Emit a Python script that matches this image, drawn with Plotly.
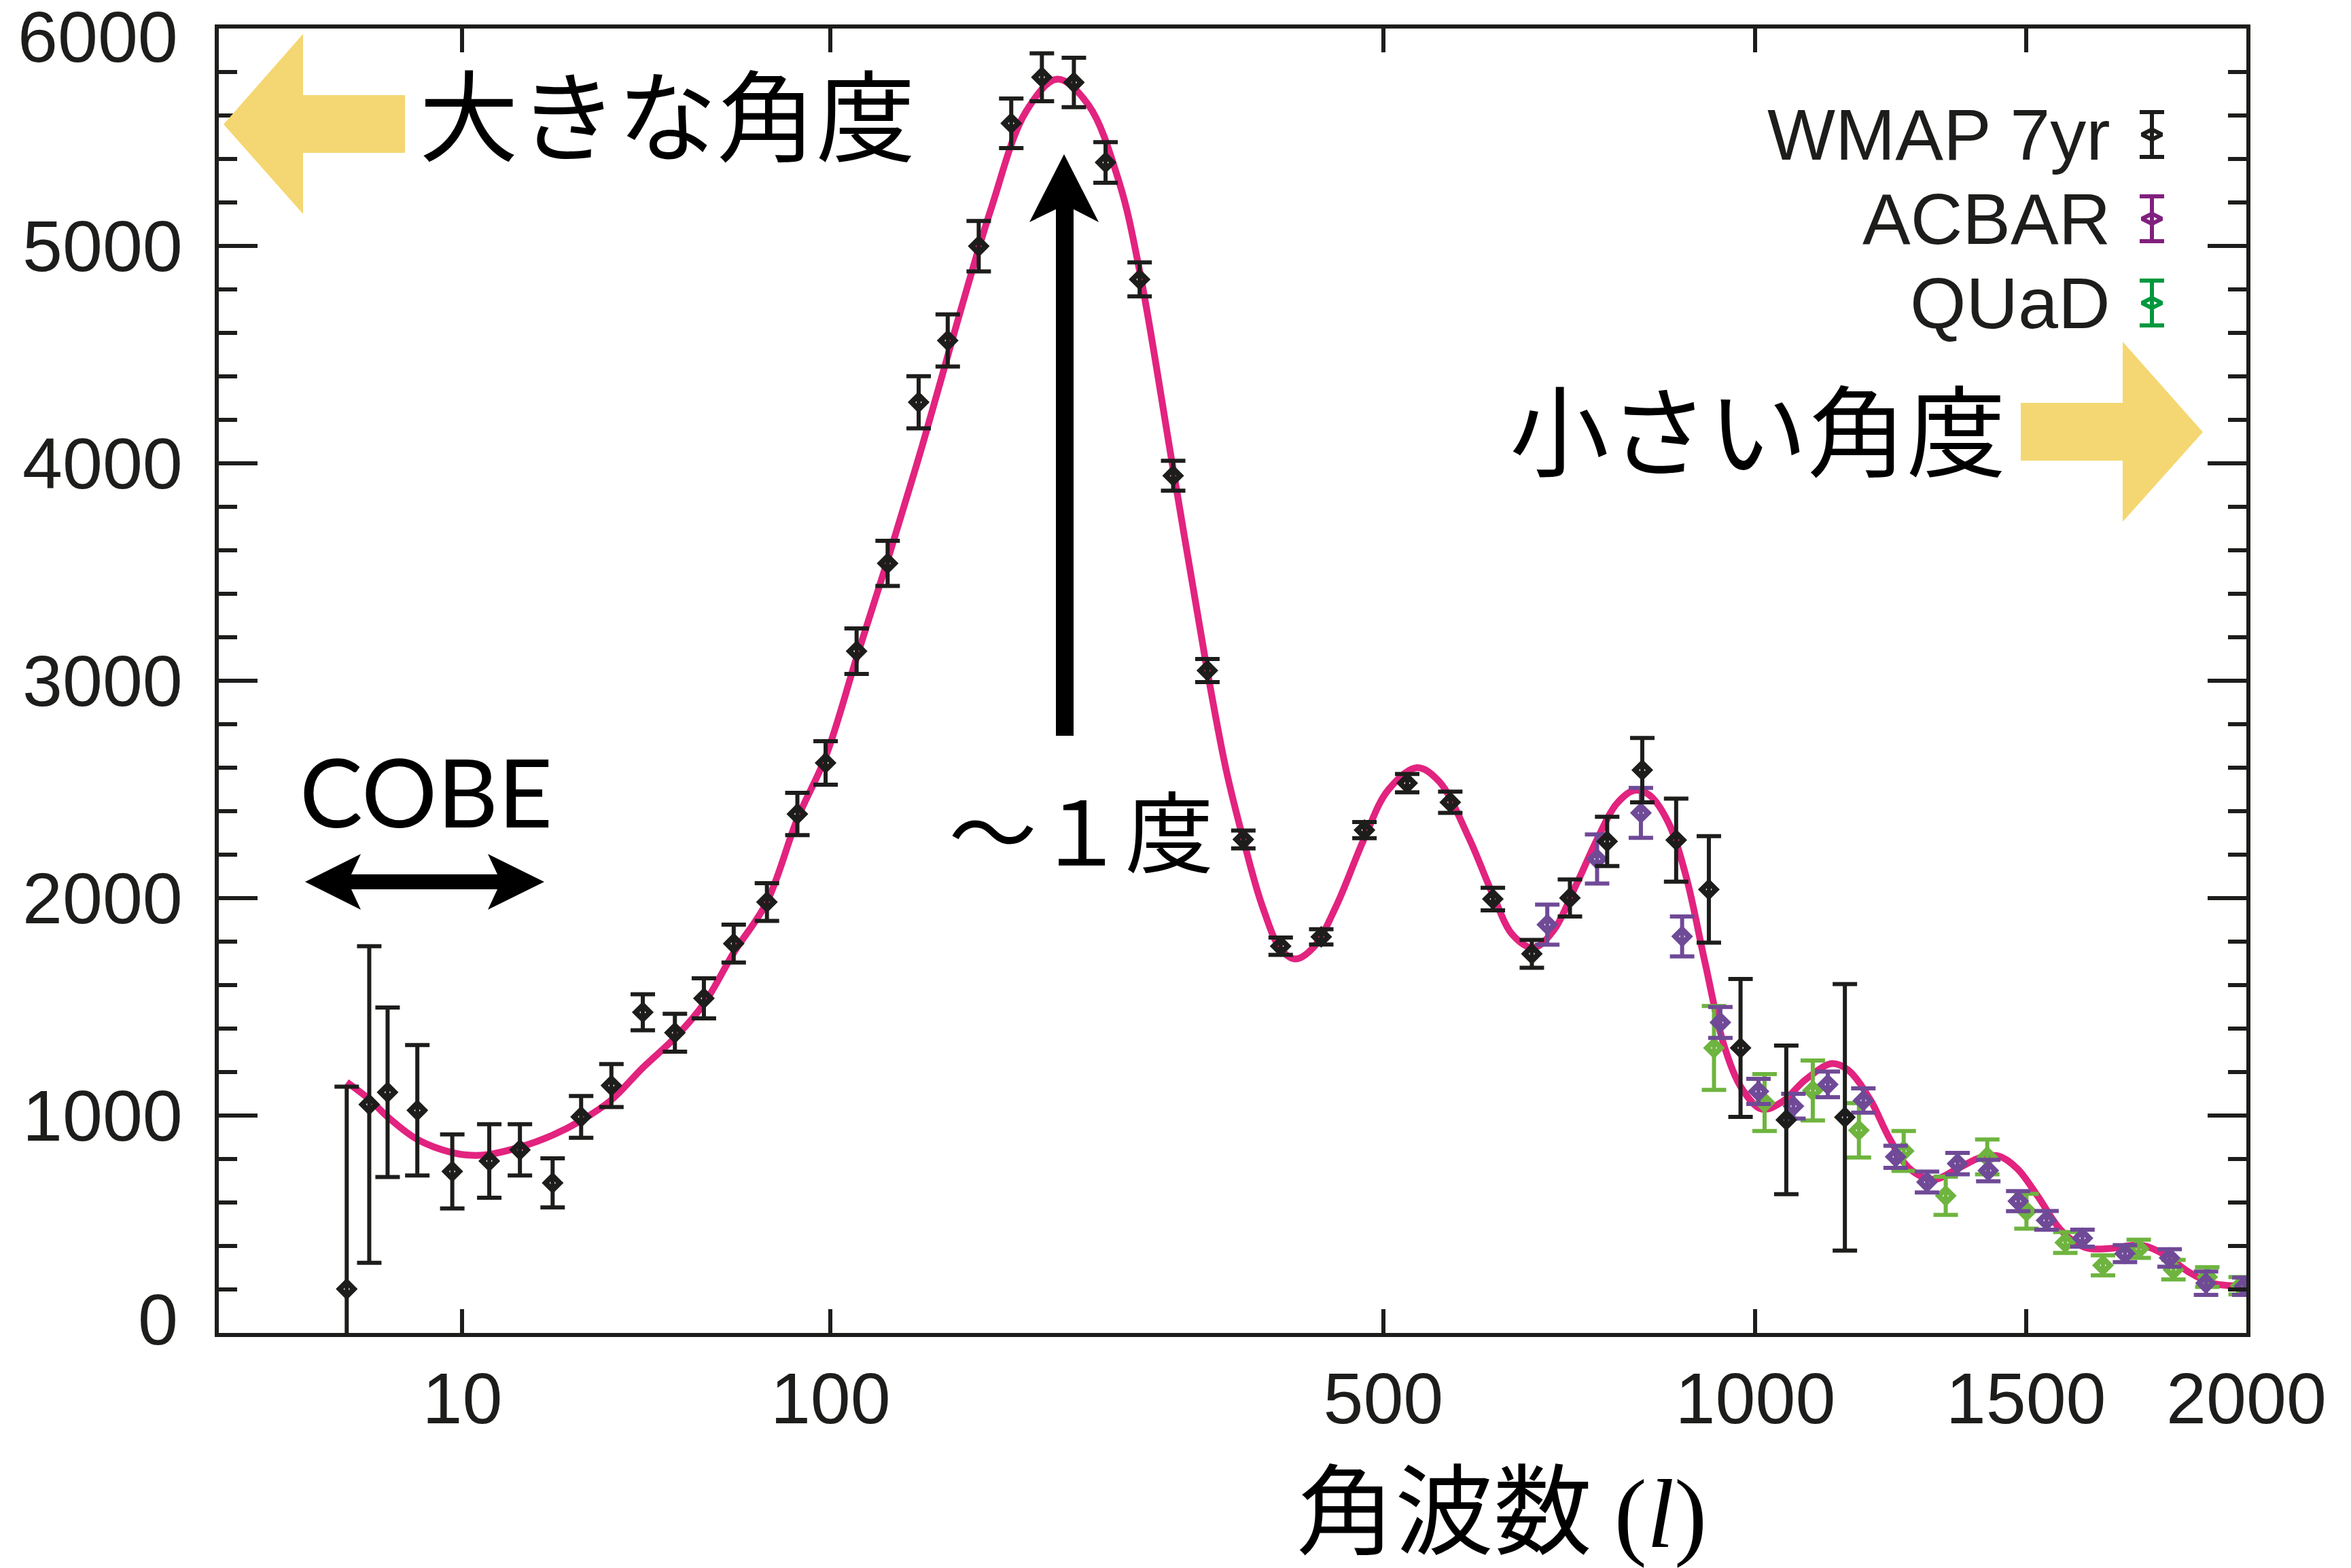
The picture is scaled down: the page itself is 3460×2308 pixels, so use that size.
import plotly.graph_objects as go

# Horizontal axis is linear in l**0.4 (stretches the high-l end)
EXP = 0.4


def xt(vals):
    return [v ** EXP for v in vals]


# ---- WMAP 7-year binned TT spectrum: l, l(l+1)C_l/2pi [uK^2], 1-sigma ----
wmap_l = [2, 3, 4, 6, 9, 13, 17, 22, 27, 33, 40, 48, 56, 65, 76, 87, 98, 111,
          125, 140, 155, 172, 191, 210, 231, 253, 278, 304, 332, 363, 397, 436,
          480, 526, 575, 626, 675, 725, 776, 826, 876, 926, 976, 1051, 1152]
wmap_d = [202, 1051, 1107, 1024, 743, 791, 842, 690, 994, 1138, 1475, 1381,
          1539, 1791, 1982, 2387, 2622, 3136, 3540, 4281, 4565, 4999, 5564,
          5776, 5752, 5384, 4846, 3943, 3047, 2270, 1779, 1822, 2313, 2529,
          2441, 1996, 1744, 2001, 2261, 2589, 2267, 2040, 1311, 980, 992]
wmap_err = [931, 728, 390, 300, 170, 169, 118, 113, 96, 99, 83, 87, 92, 87,
            87, 97, 100, 105, 104, 120, 120, 116, 114, 110, 114, 93, 78, 69,
            53, 41, 40, 35, 37, 42, 49, 52, 64, 85, 113, 148, 191, 245, 317,
            342, 613]

# ---- ACBAR ----
acbar_l = [695, 762, 824, 885, 944, 1005, 1063, 1122, 1185, 1244, 1303, 1362,
           1423, 1484, 1543, 1620, 1714, 1816, 1902, 1995]
acbar_d = [1878, 2180, 2392, 1824, 1428, 1111, 1043, 1143, 1069, 810, 694, 779,
           747, 606, 518, 436, 365, 345, 229, 215]
acbar_err = [92, 113, 115, 92, 71, 58, 57, 59, 56, 51, 48, 49, 49, 46, 43, 39,
             39, 40, 54, 40]

# ---- QUaD ----
quad_l = [934, 1015, 1096, 1177, 1259, 1339, 1421, 1501, 1583, 1665, 1745,
          1825, 1905, 1986]
quad_d = [1311, 1060, 1115, 932, 837, 631, 810, 560, 416, 311, 387, 291, 257,
          217]
quad_err = [193, 131, 138, 125, 92, 88, 80, 80, 48, 46, 42, 45, 45, 40]

# ---- best-fit LCDM model curve ----
model_l = [2, 3, 4, 6, 9, 11, 13, 17, 22, 27, 33, 40, 48, 56, 65, 76, 87, 98,
           111, 125, 142, 160, 179, 200, 220, 241, 263, 278, 304, 331, 348,
           363, 380, 397, 411, 429, 451, 480, 505, 537, 562, 597, 626, 651,
           677, 703, 733, 763, 789, 815, 836, 864, 891, 920, 950, 979, 1011,
           1044, 1084, 1129, 1157, 1197, 1233, 1270, 1315, 1362, 1409, 1445,
           1482, 1524, 1574, 1626, 1679, 1750, 1805, 1861, 1918, 2000]
model_d = [1154, 1075, 994, 890, 829, 817, 821, 855, 910, 977, 1072, 1220,
           1358, 1514, 1749, 1983, 2365, 2650, 3106, 3555, 4087, 4646, 5169,
           5618, 5767, 5648, 5289, 4885, 3973, 3074, 2589, 2270, 1964, 1766,
           1720, 1777, 1964, 2277, 2496, 2600, 2537, 2277, 2016, 1829, 1772,
           1850, 2058, 2277, 2433, 2496, 2475, 2350, 2100, 1704, 1320, 1120,
           1029, 1063, 1166, 1239, 1211, 1075, 893, 756, 706, 756, 808, 813,
           756, 631, 472, 393, 388, 404, 359, 280, 228, 217]

# ---- axis ticks ----
x_tick_l = [10, 100, 500, 1000, 1500, 2000]
x_tick_text = ["10", "100", "500", "1000", "1500", "2000"]
y_tick_vals = [0, 1000, 2000, 3000, 4000, 5000, 6000]
y_tick_text = ["", "1000", "2000", "3000", "4000", "5000", ""]  # ends drawn below, nudged inward
y_end_labels = [("0", 0), ("6000", 6000)]
L_MAX = 2000
D_MAX = 6000

# ---- styling ----
INK = "#1d1d1b"
PINK = "#e2237f"
ACBAR_C = "#6f4a97"
QUAD_C = "#6eb43f"
ACBAR_LEG = "#80207e"
QUAD_LEG = "#00983e"
GOLD = "#f4d772"
LATIN = "Liberation Sans, Arial, Helvetica, sans-serif"
CJK = "Noto Sans CJK JP, sans-serif"

W, H = 3460, 2308
PL, PR, PT, PB = 322, 3306, 42, 1962  # plot area in pixels


def fx(px):
    return (px - PL) / (PR - PL)


def fy(py):
    return (PB - py) / (PB - PT)


def poly(pts):
    return "M " + " L ".join(f"{fx(x):.5f},{fy(y):.5f}" for x, y in pts) + " Z"


def data_trace(l, d, err, color):
    return go.Scatter(
        x=xt(l), y=d, mode="markers",
        marker=dict(symbol="diamond-open", size=16, color=color,
                    line=dict(width=8, color=color)),
        error_y=dict(type="data", array=err, color=color, thickness=6, width=18),
        showlegend=False, hoverinfo="skip",
    )


fig = go.Figure()

fig.add_trace(go.Scatter(
    x=xt(model_l), y=model_d, mode="lines",
    line=dict(color=PINK, width=10, shape="spline", smoothing=1.0),
    showlegend=False, hoverinfo="skip",
))
fig.add_trace(data_trace(quad_l, quad_d, quad_err, QUAD_C))
fig.add_trace(data_trace(acbar_l, acbar_d, acbar_err, ACBAR_C))
fig.add_trace(data_trace(wmap_l, wmap_d, wmap_err, INK))

# ---- hand-made legend (symbols with error bars) on an overlay axis pair ----
legend_names = ["WMAP 7yr", "ACBAR", "QUaD"]
legend_colors = [INK, ACBAR_LEG, QUAD_LEG]
legend_rows = [198, 322, 446]
for name, col, row in zip(legend_names, legend_colors, legend_rows):
    fig.add_trace(go.Scatter(
        x=[fx(3167)], y=[fy(row)], xaxis="x2", yaxis="y2", mode="markers",
        marker=dict(symbol="diamond-wide-open", size=21, color=col,
                    line=dict(width=6, color=col)),
        error_y=dict(type="constant", value=33 / (PB - PT), color=col,
                     thickness=6, width=18),
        showlegend=False, hoverinfo="skip",
    ))

annotations = []
for name, row in zip(legend_names, legend_rows):
    annotations.append(dict(
        x=fx(3108), y=fy(row), xref="paper", yref="paper", text=name,
        showarrow=False, xanchor="right", yanchor="middle",
        font=dict(family=LATIN, size=106, color=INK),
    ))

# end labels of the vertical axis, nudged to stay inside the canvas
for text, val in y_end_labels:
    shift = -12 if val == D_MAX else 20
    annotations.append(dict(
        x=fx(264), y=val, xref="paper", yref="y", text=text,
        showarrow=False, xanchor="right", yanchor="middle", yshift=shift,
        font=dict(family=LATIN, size=106, color=INK),
    ))

# text labels
annotations += [
    dict(x=fx(982), y=fy(163), text="大きな角度", font=dict(family=CJK, size=146, color="#000")),
    dict(x=fx(2587), y=fy(626), text="小さい角度", font=dict(family=CJK, size=146, color="#000")),
    dict(x=fx(1591), y=fy(1217), text="～１度", font=dict(family=CJK, size=130, color="#000")),
    dict(x=fx(627), y=fy(1164), text="COBE", font=dict(family="Lato, sans-serif", size=139, color="#000")),
    dict(x=fx(2210), y=fy(2214),
         text="角波数 <span style=\"font-family:Liberation Serif\">(<i>l</i>)</span>",
         font=dict(family=CJK, size=145, color="#000")),
]
for a in annotations[5:]:
    a.update(xref="paper", yref="paper", showarrow=False,
             xanchor="center", yanchor="middle")

shapes = [
    # big yellow arrows
    dict(type="path", xref="paper", yref="paper", fillcolor=GOLD,
         line=dict(width=0), layer="above",
         path=poly([(329, 183), (446, 50), (446, 140), (596, 140),
                    (596, 225), (446, 225), (446, 315)])),
    dict(type="path", xref="paper", yref="paper", fillcolor=GOLD,
         line=dict(width=0), layer="above",
         path=poly([(2974, 593), (3124, 593), (3124, 503), (3242, 636),
                    (3124, 768), (3124, 678), (2974, 678)])),
    # first-peak pointer
    dict(type="path", xref="paper", yref="paper", fillcolor="#000",
         line=dict(width=0), layer="above",
         path=poly([(1554, 1083), (1554, 308), (1515, 327), (1566, 227),
                    (1617, 327), (1580, 308), (1580, 1083)])),
    # COBE range
    dict(type="path", xref="paper", yref="paper", fillcolor="#000",
         line=dict(width=0), layer="above",
         path=poly([(449, 1298), (531, 1257), (517, 1287), (732, 1287),
                    (718, 1257), (801, 1298), (718, 1339), (732, 1309),
                    (517, 1309), (531, 1339)])),
]

axis_common = dict(
    showline=True, linewidth=6, linecolor=INK, mirror="ticks",
    ticks="inside", tickwidth=6, tickcolor=INK, showgrid=False,
    zeroline=False, tickfont=dict(family=LATIN, size=106, color=INK),
    ticklabeloverflow="allow", automargin=False,
)

fig.update_layout(
    width=W, height=H,
    margin=dict(l=PL, r=W - PR, t=PT, b=H - PB, pad=0, autoexpand=False),
    paper_bgcolor="white", plot_bgcolor="white",
    showlegend=False,
    xaxis=dict(
        range=[0, L_MAX ** EXP], tickmode="array",
        tickvals=xt(x_tick_l), ticktext=x_tick_text, ticklen=35,
        ticklabelstandoff=0, **axis_common,
    ),
    yaxis=dict(
        range=[0, D_MAX], tickmode="array", tickvals=y_tick_vals,
        ticktext=y_tick_text, ticklen=57, ticklabelstandoff=26,
        minor=dict(ticks="inside", dtick=200, ticklen=27, tickwidth=6,
                   tickcolor=INK, showgrid=False),
        **axis_common,
    ),
    xaxis2=dict(overlaying="x", range=[0, 1], visible=False, fixedrange=True),
    yaxis2=dict(overlaying="y", range=[0, 1], visible=False, fixedrange=True),
    annotations=annotations,
    shapes=shapes,
)

fig.write_html("out.html")
